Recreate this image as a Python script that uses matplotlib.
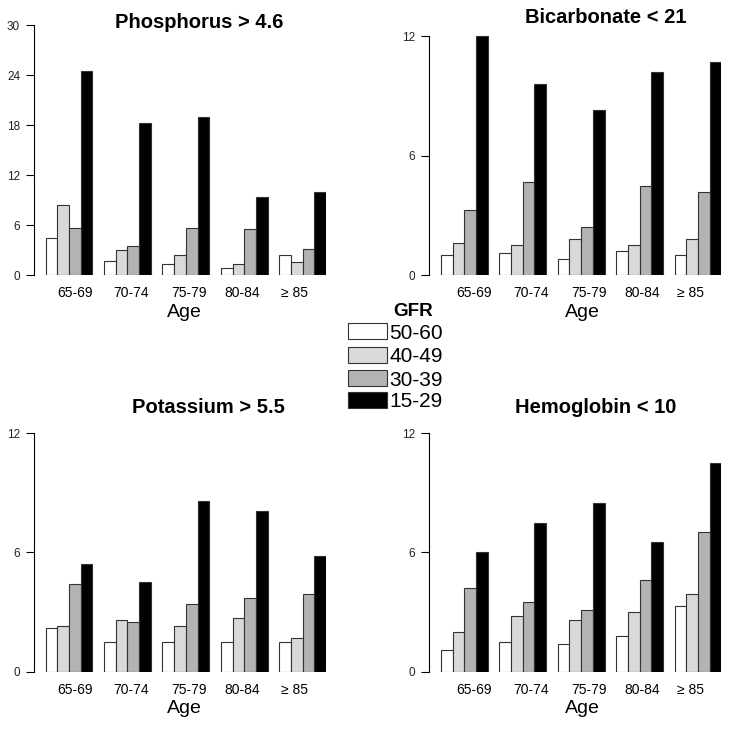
import matplotlib
matplotlib.use("Agg")
import matplotlib.pyplot as plt
import numpy as np

plt.rcParams['font.family'] = ['Liberation Sans', 'DejaVu Sans']

W, H = 729, 731

# data
ages = ["65-69", "70-74", "75-79", "80-84", "\u2265 85"]
gfr = ["50-60", "40-49", "30-39", "15-29"]
colors = ["white", "#d9d9d9", "#b3b3b3", "black"]

titles = ["Phosphorus > 4.6", "Bicarbonate < 21", "Potassium > 5.5", "Hemoglobin < 10"]
yticks = [[0, 6, 12, 18, 24, 30], [0, 6, 12], [0, 6, 12], [0, 6, 12]]

phosphorus = [[4.5, 1.7, 1.4, 0.9, 2.4],
              [8.4, 3.0, 2.4, 1.4, 1.6],
              [5.7, 3.5, 5.7, 5.6, 3.1],
              [24.5, 18.3, 19.0, 9.4, 10.0]]
bicarbonate = [[1.0, 1.1, 0.8, 1.2, 1.0],
               [1.6, 1.5, 1.8, 1.5, 1.8],
               [3.3, 4.7, 2.4, 4.5, 4.2],
               [12.0, 9.6, 8.3, 10.2, 10.7]]
potassium = [[2.2, 1.5, 1.5, 1.5, 1.5],
             [2.3, 2.6, 2.3, 2.7, 1.7],
             [4.4, 2.5, 3.4, 3.7, 3.9],
             [5.4, 4.5, 8.6, 8.1, 5.8]]
hemoglobin = [[1.1, 1.5, 1.4, 1.8, 3.3],
              [2.0, 2.8, 2.6, 3.0, 3.9],
              [4.2, 3.5, 3.1, 4.6, 7.0],
              [6.0, 7.5, 8.5, 6.5, 10.5]]
panels = [phosphorus, bicarbonate, potassium, hemoglobin]


def fx(x):
    return x / W


def fy(y):
    return 1 - y / H


fig = plt.figure(figsize=(W / 100, H / 100), dpi=100)

# axes placement (pixels): left edge, zero line
boxes = [(34, 275.3), (429.3, 275.3), (34, 671.7), (429.3, 671.7)]
ytops = [30, 12.55, 12.57, 12.57]
title_pos = [(199, 28.3), (605.7, 22.7), (208.8, 413.3), (595.5, 413.3)]
label_x = [[3.5, 8.3, 13.3, 17.8, 22.3], [3.8, 8.7, 13.65, 18.2, 22.4],
           [3.5, 8.3, 13.3, 17.8, 22.3], [3.8, 8.7, 13.65, 18.2, 22.4]]
age_x = [184, 582.3, 184, 582.3]

for i, data in enumerate(panels):
    left, zero = boxes[i]
    ax = fig.add_axes([fx(left), fy(zero), 292 / W, 250 / H])
    for k in range(4):
        xs = np.arange(5) * 5 + 1 + k
        ax.bar(xs, data[k], width=1, align='edge', color=colors[k],
               edgecolor='#333333', linewidth=0.8)
    ax.set_xlim(0, 25)
    ax.set_ylim(0, ytops[i])
    for s in ['top', 'right', 'bottom']:
        ax.spines[s].set_visible(False)
    ax.spines['left'].set_bounds(yticks[i][0], yticks[i][-1])
    ax.spines['left'].set_linewidth(0.8)
    ax.set_xticks([])
    ax.set_yticks(yticks[i])
    ax.tick_params(axis='y', length=6, width=0.8, pad=4, labelsize=8.5,
                   labelcolor='#222222')

    tx, ty = title_pos[i]
    fig.text(fx(tx), fy(ty), titles[i], ha='center', va='baseline',
             fontsize=14.5, fontweight='bold')
    # age group labels under the bars
    for j, lab in enumerate(ages):
        fig.text(fx(left + label_x[i][j] * 292 / 25), fy(zero + 22), lab,
                 ha='center', va='baseline', fontsize=10)
    fig.text(fx(age_x[i]), fy(zero + 41.5), "Age", ha='center', va='baseline',
             fontsize=14)

# legend
fig.text(fx(393), fy(316.5), "GFR", ha='left', va='baseline',
         fontsize=13.6, fontweight='bold')
box_tops = [323.3, 346.7, 370, 391.7]
for k in range(4):
    y0 = box_tops[k]
    rect = plt.Rectangle((fx(348.3), fy(y0 + 16)), 38.4 / W, 16 / H,
                         transform=fig.transFigure, facecolor=colors[k],
                         edgecolor='#333333', linewidth=0.8)
    fig.patches.append(rect)
    fig.text(fx(389), fy(y0 + 8), gfr[k], ha='left', va='center_baseline',
             fontsize=15)

fig.savefig("out.png", dpi=100)
